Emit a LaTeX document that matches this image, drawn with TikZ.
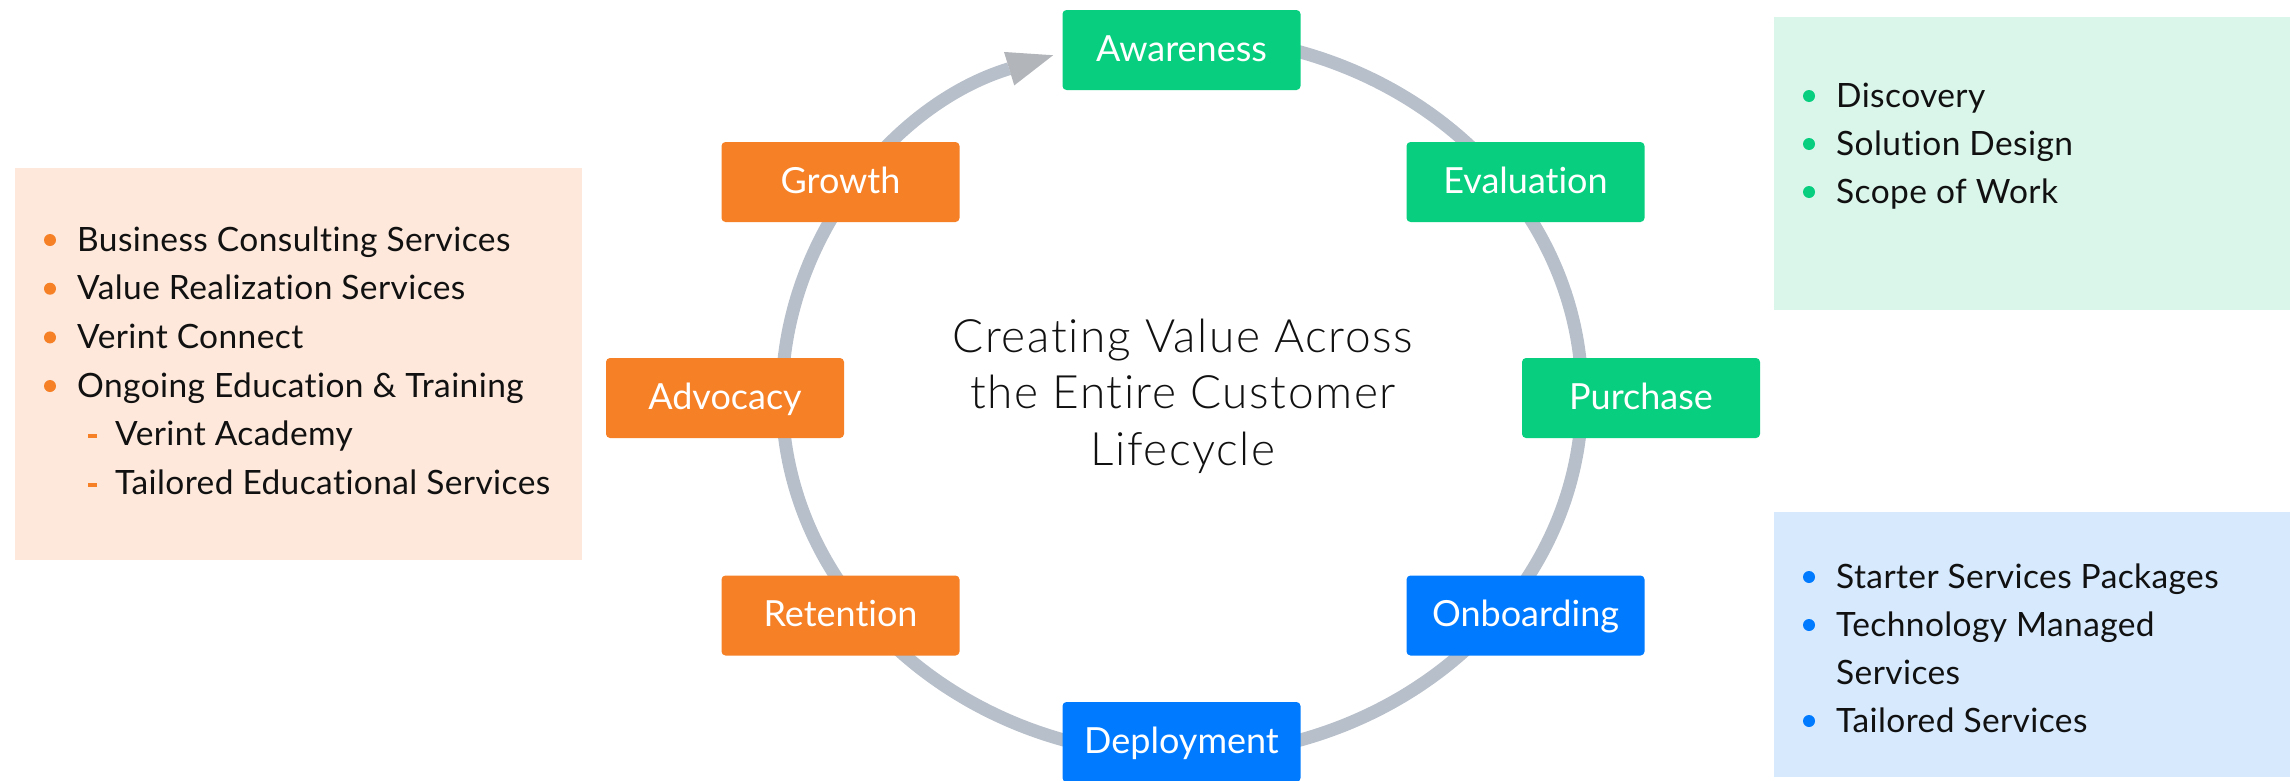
\documentclass[tikz,border=0pt]{standalone}
\usepackage{fontspec}
\setmainfont{Lato}[Ligatures=NoCommon]
\newfontfamily\titlefont{Lato Light}[Ligatures=NoCommon, LetterSpace=3.5]
\newfontfamily\listfont{Lato}[Ligatures=NoCommon, LetterSpace=1.2]
\usetikzlibrary{arrows.meta}

\definecolor{stagegreen}{RGB}{8,207,127}
\definecolor{stageorange}{RGB}{245,128,38}
\definecolor{stageblue}{RGB}{0,123,255}
\definecolor{arcgray}{RGB}{183,191,202}
\definecolor{arrowgray}{RGB}{178,181,186}
\definecolor{panelpeach}{RGB}{253,232,219}
\definecolor{panelmint}{RGB}{218,246,235}
\definecolor{panelsky}{RGB}{214,233,253}
\definecolor{ink}{RGB}{17,17,17}

\tikzset{
  stage/.style={rectangle, rounded corners=4pt, minimum width=238pt, minimum height=80pt,
    inner sep=0pt, text=white, font=\fontsize{36}{40}\selectfont,
    text height=24pt, text depth=2pt},
  greenstage/.style={stage, fill=stagegreen},
  orangestage/.style={stage, fill=stageorange},
  bluestage/.style={stage, fill=stageblue},
  panel/.style={rectangle, inner sep=0pt, draw=none},
  item/.style={anchor=base west, inner sep=0pt, text=ink, font=\listfont\fontsize{33.5}{38}\selectfont},
  title/.style={anchor=base, inner sep=0pt, text=ink, font=\titlefont\fontsize{46}{52}\selectfont},
  dot/.style={circle, inner sep=0pt, minimum size=12pt},
  subdash/.style={rectangle, inner sep=0pt, minimum width=9pt, minimum height=4pt, fill=stageorange},
  cycleline/.style={line width=13pt, draw=arcgray,
    -{Triangle[length=46pt, width=35pt, line width=0pt, color=arrowgray]}},
}

\begin{document}
\begin{tikzpicture}[x=1pt, y=1pt]
  \useasboundingbox (0,0) rectangle (2290,-780);

  % side panels
  \node[panel, fill=panelpeach, minimum width=567pt, minimum height=392pt] (leftpanel) at (298.5,-364) {};
  \node[panel, fill=panelmint, minimum width=516pt, minimum height=293pt] (greenpanel) at (2032,-163.5) {};
  \node[panel, fill=panelsky, minimum width=516pt, minimum height=265pt] (bluepanel) at (2032,-644.5) {};

  % lifecycle ring with arrow
  \coordinate (hub) at (1182,-396);
  \draw[cycleline] ([yshift=360pt]hub) arc[start angle=90, end angle=-251.2, x radius=400, y radius=360];

  % stages
  \node[greenstage]  (awareness)  at (1181.5,-50)    {Awareness};
  \node[greenstage]  (evaluation) at (1525.5,-182)   {Evaluation};
  \node[greenstage]  (purchase)   at (1641,-398)     {Purchase};
  \node[bluestage]   (onboarding) at (1525.5,-615.5) {Onboarding};
  \node[bluestage]   (deployment) at (1181.5,-742)   {Deployment};
  \node[orangestage] (retention)  at (840.5,-615.5)  {Retention};
  \node[orangestage] (advocacy)   at (725,-398)      {Advocacy};
  \node[orangestage] (growth)     at (840.5,-182)    {Growth};

  % centre title
  \node[title] (title1) at (1183,-352) {Creating Value Across};
  \node[title] (title2) at (1183,-408) {the Entire Customer};
  \node[title] (title3) at (1183,-465) {Lifecycle};

  % left list
  \node[dot, fill=stageorange] (ld1) at (50,-240)   {};
  \node[item] (li1) at (77,-251)   {Business Consulting Services};
  \node[dot, fill=stageorange] (ld2) at (50,-288.7) {};
  \node[item] (li2) at (77,-299.7) {Value Realization Services};
  \node[dot, fill=stageorange] (ld3) at (50,-337.4) {};
  \node[item] (li3) at (77,-348.4) {Verint Connect};
  \node[dot, fill=stageorange] (ld4) at (50,-386)   {};
  \node[item] (li4) at (77,-397)   {Ongoing Education \& Training};
  \node[subdash] (ls1) at (92.5,-436) {};
  \node[item] (li5) at (115,-445.8) {Verint Academy};
  \node[subdash] (ls2) at (92.5,-484.7) {};
  \node[item] (li6) at (115,-494.5) {Tailored Educational Services};

  % green list
  \node[dot, fill=stagegreen] (gd1) at (1809,-96)  {};
  \node[item] (gi1) at (1836,-107) {Discovery};
  \node[dot, fill=stagegreen] (gd2) at (1809,-144) {};
  \node[item] (gi2) at (1836,-155) {Solution Design};
  \node[dot, fill=stagegreen] (gd3) at (1809,-192) {};
  \node[item] (gi3) at (1836,-203) {Scope of Work};

  % blue list
  \node[dot, fill=stageblue] (bd1) at (1809,-577) {};
  \node[item] (bi1) at (1836,-588) {Starter Services Packages};
  \node[dot, fill=stageblue] (bd2) at (1809,-625) {};
  \node[item] (bi2) at (1836,-636) {Technology Managed};
  \node[item] (bi2b) at (1836,-684) {Services};
  \node[dot, fill=stageblue] (bd3) at (1809,-721) {};
  \node[item] (bi3) at (1836,-732) {Tailored Services};
\end{tikzpicture}
\end{document}
